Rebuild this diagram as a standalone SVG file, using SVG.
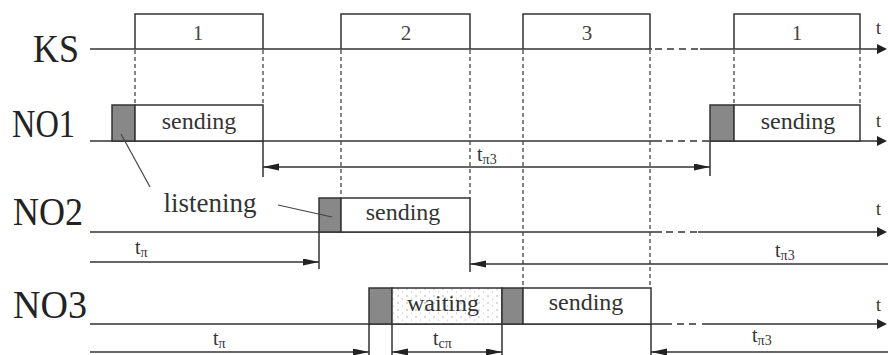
<svg xmlns="http://www.w3.org/2000/svg" width="888" height="355" viewBox="0 0 888 355">
<style>
.ln{stroke:#333;stroke-width:1.5;fill:none}
.ax{stroke:#333;stroke-width:1.5;fill:none;marker-end:url(#axArr)}
.dsh{stroke:#333;stroke-width:1.5;fill:none;stroke-dasharray:7 5}
.vd{stroke:#444;stroke-width:1.3;fill:none;stroke-dasharray:4 3}
.box{fill:#fff;stroke:#333;stroke-width:1.5}
.gray{fill:#888;stroke:#333;stroke-width:1.5}
.dim{stroke:#333;stroke-width:1.5;fill:none}
.de{marker-end:url(#dArr)}
.ds{marker-start:url(#dArr)}
.big{font-family:"Liberation Serif","Times New Roman",serif;font-size:40px;fill:#222}
.lbl{font-family:"Liberation Serif","Times New Roman",serif;font-size:24px;fill:#333;text-anchor:middle}
.num{font-family:"Liberation Serif","Times New Roman",serif;font-size:21px;fill:#444;text-anchor:middle}
.t{font-family:"Liberation Serif","Times New Roman",serif;font-size:18px;fill:#333}
.dt{font-family:"Liberation Serif","Times New Roman",serif;font-size:20px;fill:#333}
.sub{font-size:14px}
.lead{stroke:#444;stroke-width:1.2;fill:none}
</style>
<defs>
<marker id="axArr" markerUnits="userSpaceOnUse" markerWidth="11" markerHeight="11" refX="0" refY="5" orient="auto"><path d="M0,0 L10,5 L0,10 z" fill="#222"/></marker>
<marker id="dArr" markerUnits="userSpaceOnUse" markerWidth="18" markerHeight="8" refX="16" refY="3.5" orient="auto-start-reverse"><path d="M0,0 L16,3.5 L0,7 z" fill="#222"/></marker>
<pattern id="stip" width="9" height="7" patternUnits="userSpaceOnUse"><circle cx="2" cy="2" r="0.7" fill="#999"/><circle cx="6.5" cy="5" r="0.6" fill="#aaa"/></pattern>
</defs>

<g id="KS">
<text class="big" x="33" y="62" textLength="46" lengthAdjust="spacingAndGlyphs">KS</text>
<path class="ln" d="M90,49 H652"/>
<path class="dsh" d="M655,49 H700"/>
<path class="ax" d="M700,49 H877"/>
<text class="t" x="876" y="34">t</text>
<path class="ln" d="M135,49 V14 H263 V49"/>
<text class="num" x="198" y="40">1</text>
<path class="ln" d="M341,49 V14 H470 V49"/>
<text class="num" x="406" y="40">2</text>
<path class="ln" d="M523,49 V14 H650 V49"/>
<text class="num" x="587" y="40">3</text>
<path class="ln" d="M734,49 V14 H860 V49"/>
<text class="num" x="797" y="40">1</text>
</g>

<g id="NO1">
<text class="big" x="12" y="137" textLength="63" lengthAdjust="spacingAndGlyphs">NO1</text>
<path class="ln" d="M90,141 H662"/>
<path class="dsh" d="M666,141 H710"/>
<path class="ax" d="M710,141 H877"/>
<text class="t" x="876" y="127">t</text>
<rect class="gray" x="112" y="105" width="23" height="36"/>
<rect class="box" x="135" y="105" width="128" height="36"/>
<text class="lbl" x="199" y="129">sending</text>
<rect class="gray" x="710" y="105" width="24" height="36"/>
<rect class="box" x="734" y="105" width="126" height="36"/>
<text class="lbl" x="798" y="129">sending</text>
</g>

<g id="NO2">
<text class="big" x="13" y="225" textLength="70" lengthAdjust="spacingAndGlyphs">NO2</text>
<path class="ln" d="M90,232 H662"/>
<path class="dsh" d="M666,232 H698"/>
<path class="ax" d="M698,232 H877"/>
<text class="t" x="876" y="215">t</text>
<rect class="gray" x="319" y="198" width="22" height="34"/>
<rect class="box" x="341" y="198" width="129" height="34"/>
<text class="lbl" x="403" y="220">sending</text>
</g>

<g id="NO3">
<text class="big" x="13" y="318" textLength="74" lengthAdjust="spacingAndGlyphs">NO3</text>
<path class="ln" d="M90,324 H672"/>
<path class="dsh" d="M677,324 H701"/>
<path class="ax" d="M702,324 H877"/>
<text class="t" x="876" y="311">t</text>
<rect class="gray" x="369" y="288" width="23" height="36"/>
<rect x="392" y="288" width="110" height="36" fill="#fff"/>
<rect x="392" y="288" width="110" height="36" fill="url(#stip)" stroke="#333" stroke-width="1.5"/>
<text class="lbl" x="443" y="311">waiting</text>
<rect class="gray" x="502" y="288" width="21" height="36"/>
<rect class="box" x="523" y="288" width="128" height="36"/>
<text class="lbl" x="586" y="310">sending</text>
</g>

<g id="listening">
<text class="lbl" x="210" y="212" style="font-size:27px">listening</text>
</g>

<g id="connectors">
<path class="vd" d="M135,50 V105 M263,50 V105 M734,50 V105 M860,50 V105"/>
<path class="vd" d="M341,50 V198 M470,50 V198"/>
<path class="vd" d="M523,50 V288 M650,50 V288"/>
<path class="lead" d="M121,134 L150,187"/>
<path class="lead" d="M278,205 L332,217"/>

<path class="dim" d="M263,141 V177 M710,141 V176"/>
<path class="dim ds de" d="M263,167 H710"/>
<text class="dt" x="477" y="161">t<tspan class="sub" dy="3">π3</tspan></text>

<path class="dim" d="M319,232 V269 M470,232 V272"/>
<path class="dim de" d="M90,262 H319"/>
<text class="dt" x="135" y="254">t<tspan class="sub" dy="3">π</tspan></text>
<path class="dim ds" d="M470,264 H888"/>
<text class="dt" x="775" y="257">t<tspan class="sub" dy="3">π3</tspan></text>

<path class="dim" d="M369,324 V355 M392,324 V355 M502,324 V355 M651,324 V355"/>
<path class="dim de" d="M90,352 H369"/>
<text class="dt" x="213" y="345">t<tspan class="sub" dy="3">π</tspan></text>
<path class="dim ds de" d="M392,352 H502"/>
<text class="dt" x="433" y="345">t<tspan class="sub" dy="3">cπ</tspan></text>
<path class="dim ds" d="M651,352 H888"/>
<text class="dt" x="752" y="342">t<tspan class="sub" dy="3">π3</tspan></text>
</g>
</svg>
